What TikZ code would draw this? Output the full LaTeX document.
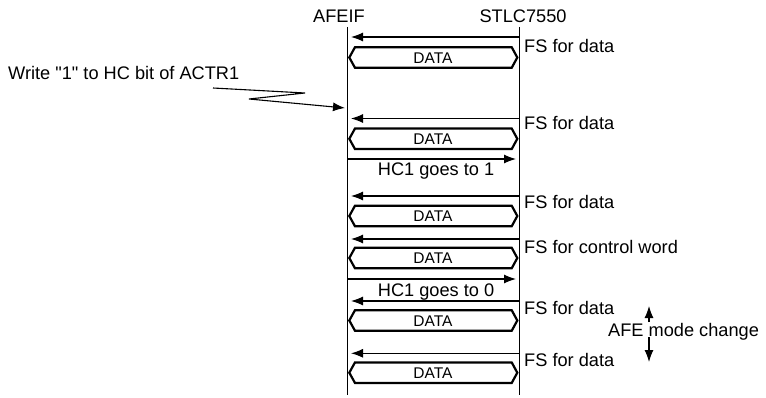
\documentclass[tikz,border=0pt]{standalone}
\usepackage{fontspec}
\setmainfont{Liberation Sans}[Ligatures=TeXOff]
\usetikzlibrary{arrows.meta}
\begin{document}
\begin{tikzpicture}[x=1pt,y=-1pt,
  lifeline/.style={line width=1.1pt},
  msg/.style={line width=1.1pt,-{Latex[length=12pt,width=9pt]}},
  hexbox/.style={line width=2.2pt,line join=miter},
  lbl/.style={font=\fontsize{18.2}{20}\selectfont,inner sep=0pt},
  dlbl/.style={font=\fontsize{15.5}{17}\selectfont,inner sep=0pt}]
\useasboundingbox (0,0) rectangle (766,398);
% lifeline headers
\node[lbl,anchor=base] (afeif) at (339,23) {AFEIF};
\node[lbl,anchor=base] (stlc) at (523,23) {STLC7550};
\coordinate (Ltop) at (347.3,27);
\coordinate (Lbot) at (347.3,395);
\coordinate (Rtop) at (519.3,27);
\coordinate (Rbot) at (519.3,395);
\draw[lifeline] (Ltop) -- (Lbot);
\draw[lifeline] (Rtop) -- (Rbot);
% FS arrows
\foreach \i/\y in {1/37,2/118.5,3/196,4/239,5/301,6/353.3} {
  \coordinate (fs\i r) at (519.3,\y);
  \coordinate (fs\i l) at (351,\y);
  \draw[msg] (fs\i r) -- (fs\i l);
}
% FS labels
\foreach \i/\b/\t in {1/53/FS for data,2/130/FS for data,3/209/FS for data,4/254/FS for control word,5/314/FS for data,6/366/FS for data} {
  \node[lbl,anchor=base west] (fsl\i) at (524,\b) {\t};
}
% DATA hexagons
\foreach \i/\c in {1/57.5,2/138.8,3/216,4/258,5/320.5,6/372.7} {
  \draw[hexbox] (349.3,\c) -- (355,{\c-10.3}) -- (511.7,{\c-10.3}) -- (517.3,\c)
     -- (511.7,{\c+10.3}) -- (355,{\c+10.3}) -- cycle;
  \node[dlbl,anchor=base] (d\i) at (433,{\c+5.7}) {DATA};
}
% HC1 arrows
\coordinate (hc1l) at (347.3,159);
\coordinate (hc1r) at (516,159);
\draw[msg] (hc1l) -- (hc1r);
\node[lbl,anchor=base west] (hc1t) at (377.7,176) {HC1 goes to 1};
\coordinate (hc0l) at (347.3,279);
\coordinate (hc0r) at (516,279);
\draw[msg] (hc0l) -- (hc0r);
\node[lbl,anchor=base west] (hc0t) at (377.7,296) {HC1 goes to 0};
% write annotation
\node[lbl,anchor=base west] (wr) at (8,79.3) {Write "1" to HC bit of ACTR1};
\coordinate (w0) at (213,88);
\coordinate (w1) at (305,93);
\coordinate (w2) at (249,99);
\coordinate (wtip) at (345,108);
\draw[msg] (w0) -- (w1) -- (w2) -- (wtip);
% AFE mode change
\node[lbl,anchor=base west] (afe) at (608,336) {AFE mode change};
\coordinate (up0) at (649,322);
\coordinate (up1) at (649,306);
\coordinate (dn0) at (649,337);
\coordinate (dn1) at (649,362);
\draw[msg] (up0) -- (up1);
\draw[msg] (dn0) -- (dn1);
\end{tikzpicture}
\end{document}
